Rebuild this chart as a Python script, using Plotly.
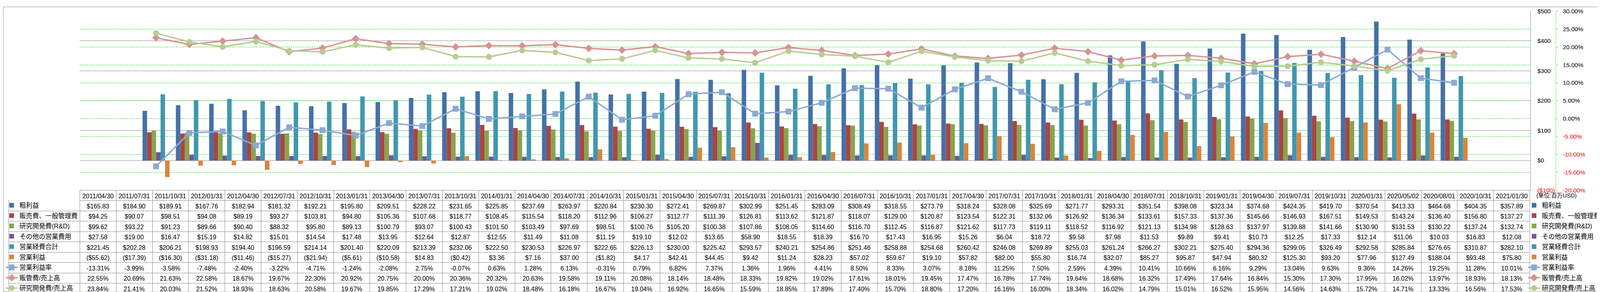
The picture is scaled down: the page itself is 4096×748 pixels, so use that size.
import plotly.graph_objects as go

# ---------------- data ----------------
dates = ["2011/04/30", "2011/07/31", "2011/10/31", "2012/01/31", "2012/04/30", "2012/07/31",
         "2012/10/31", "2013/01/31", "2013/04/30", "2013/07/31", "2013/10/31", "2014/01/31",
         "2014/04/30", "2014/07/31", "2014/10/31", "2015/01/31", "2015/04/30", "2015/07/31",
         "2015/10/31", "2016/01/31", "2016/04/30", "2016/07/31", "2016/10/31", "2017/01/31",
         "2017/04/30", "2017/07/31", "2017/10/31", "2018/01/31", "2018/04/30", "2018/07/31",
         "2018/10/31", "2019/01/31", "2019/04/30", "2019/07/31", "2019/10/31", "2020/01/31",
         "2020/05/02", "2020/08/01", "2020/10/31", "2021/01/30"]

gross_profit = [165.83, 184.90, 189.91, 167.76, 182.94, 181.32, 192.21, 195.80, 209.51,
                228.22, 231.65, 225.85, 237.69, 263.97, 220.84, 230.30, 272.41, 269.87, 302.99, 251.45,
                283.09, 308.49, 318.55, 273.79, 318.24, 328.08, 325.69, 271.77, 293.31, 351.54,
                398.08, 323.34, 374.68, 424.35, 419.70, 370.54, 413.33, 464.68, 404.35, 357.89]
sga = [94.25, 90.07, 98.51, 94.08, 89.19, 93.27, 103.81, 94.80, 105.36,
       107.68, 118.77, 108.45, 115.54, 118.20, 112.96, 106.27, 112.77, 111.39, 126.81, 113.62,
       121.87, 118.07, 129.00, 120.87, 123.54, 122.31, 132.06, 126.92, 136.34, 133.61,
       157.33, 137.36, 145.66, 146.93, 167.51, 149.53, 143.24, 136.40, 156.80, 137.27]
rnd = [99.62, 93.22, 91.23, 89.66, 90.40, 88.32, 95.80, 89.13, 100.79,
       93.07, 100.43, 101.50, 103.49, 97.69, 98.51, 100.76, 105.20, 100.38, 107.86, 108.05,
       114.60, 116.70, 112.45, 116.87, 121.62, 117.73, 119.11, 118.52, 116.92, 121.13,
       134.98, 128.63, 137.97, 139.88, 141.66, 130.90, 131.53, 130.22, 137.24, 132.74]
other_opex = [27.58, 19.00, 16.47, 15.19, 14.82, 15.01, 14.54, 17.48, 13.95,
              12.64, 12.87, 12.55, 11.49, 11.08, 11.19, 19.10, 12.02, 13.65, 58.90, 18.55,
              18.39, 16.70, 17.43, 16.95, 15.26, 6.04, 18.72, 9.58, 7.98, 11.53,
              9.89, 9.41, 10.73, 12.25, 17.33, 12.14, 11.06, 10.03, 16.83, 12.08]
total_opex = [221.45, 202.28, 206.21, 198.93, 194.40, 196.59, 214.14, 201.40, 220.09,
              213.39, 232.06, 222.50, 230.53, 226.97, 222.65, 226.13, 230.00, 225.42, 293.57, 240.21,
              254.86, 251.46, 258.88, 254.68, 260.42, 246.08, 269.89, 255.03, 261.24, 266.27,
              302.21, 275.40, 294.36, 299.05, 326.49, 292.58, 285.84, 276.65, 310.87, 282.10]
op_income = [-55.62, -17.39, -16.30, -31.18, -11.46, -15.27, -21.94, -5.61, -10.58,
             14.83, -0.42, 3.36, 7.16, 37.00, -1.82, 4.17, 42.41, 44.45, 9.42, 11.24,
             28.23, 57.02, 59.67, 19.10, 57.82, 82.00, 55.80, 16.74, 32.07, 85.27,
             95.87, 47.94, 80.32, 125.30, 93.20, 77.96, 127.49, 188.04, 93.48, 75.80]
op_margin = [-13.31, -3.99, -3.58, -7.48, -2.40, -3.22, -4.71, -1.24, -2.08,
             2.75, -0.07, 0.63, 1.28, 6.13, -0.31, 0.79, 6.82, 7.37, 1.36, 1.96,
             4.41, 8.50, 8.33, 3.07, 8.18, 11.25, 7.50, 2.59, 4.39, 10.41,
             10.66, 6.16, 9.29, 13.04, 9.63, 9.36, 14.26, 19.25, 11.28, 10.01]
sga_ratio = [22.55, 20.69, 21.63, 22.58, 18.67, 19.67, 22.30, 20.92, 20.75,
             20.00, 20.36, 20.32, 20.63, 19.58, 19.11, 20.08, 18.14, 18.48, 18.33, 19.82,
             19.02, 17.61, 18.01, 19.45, 17.47, 16.78, 17.74, 19.64, 18.68, 16.32,
             17.49, 17.64, 16.84, 15.30, 17.30, 17.95, 16.02, 13.97, 18.93, 18.13]
rnd_ratio = [23.84, 21.41, 20.03, 21.52, 18.93, 18.63, 20.58, 19.67, 19.85,
             17.29, 17.21, 19.02, 18.48, 16.18, 16.67, 19.04, 16.92, 16.65, 15.59, 18.85,
             17.89, 17.40, 15.70, 18.80, 17.20, 16.16, 16.00, 18.34, 16.02, 14.79,
             15.01, 16.52, 15.95, 14.56, 14.63, 15.72, 14.71, 13.33, 16.56, 17.53]

bar_names = ["粗利益", "販売費、一般管理費", "研究開発費(R&D)", "その他の営業費用", "営業経費合計", "営業利益"]
line_names = ["営業利益率", "販管費/売上高", "研究開発費/売上高"]

y_tickvals = [-100, 0, 100, 200, 300, 400, 500]
y_ticktext = ["($100)", "$0", "$100", "$200", "$300", "$400", "$500"]
y2_tickvals = [-20, -15, -10, -5, 0, 5, 10, 15, 20, 25, 30]
y2_ticktext = ["-20.00%", "-15.00%", "-10.00%", "-5.00%", "0.00%", "5.00%",
               "10.00%", "15.00%", "20.00%", "25.00%", "30.00%"]
unit_label = "(単位:百万USD)"

# ---------------- styles ----------------
bar_colors = ["#4571A8", "#A94543", "#88A44D", "#705A90", "#4197AF", "#DA843D"]
line_colors = ["#8EA9D2", "#D69492", "#B6CD90"]
line_symbols = ["square", "diamond", "circle"]

W, H = 4096, 748
RW, RH = 4701.0, 858.0
S = W / RW
FONT = "Liberation Sans, Noto Sans CJK JP, sans-serif"
GRAY = "#898989"

plot_left, plot_right = 225.5 / RW, 4487 / RW
plot_bottom, plot_top = 1 - 552.3 / RH, 1 - 13.3 / RH
y2_pos = 4562 / RW
table_left = 16.7 / RW
row_h = 30.45 * S
head_h = 30 * S
leg_font = 19 * S
item_h = leg_font * 1.3 + 3
leg_gap = row_h - item_h
leg_top = 1 - (582.3 * S - 4.5) / H


def red(t):
    return "<span style='color:#FF0000'>%s</span>" % t


y_ticklabels = [red(t) if v < 0 else t for v, t in zip(y_tickvals, y_ticktext)]
y2_ticklabels = [red(t) if v < 0 else t for v, t in zip(y2_tickvals, y2_ticktext)]

fig = go.Figure()

bar_series = [gross_profit, sga, rnd, other_opex, total_opex, op_income]
line_series = [op_margin, sga_ratio, rnd_ratio]

# main marks (legend on the right of the table)
for k, (name, vals, col) in enumerate(zip(bar_names, bar_series, bar_colors)):
    fig.add_trace(go.Bar(x=dates, y=vals, name=name, marker=dict(color=col, line=dict(width=0)),
                         yaxis="y", legend="legend", legendgroup="R%d" % k))
for k, (name, vals, col, sym) in enumerate(zip(line_names, line_series, line_colors, line_symbols)):
    fig.add_trace(go.Scatter(x=dates, y=vals, name=name, mode="lines+markers", yaxis="y2",
                             line=dict(color=col, width=3.6),
                             marker=dict(symbol=sym, size=15, color=col, line=dict(width=0)),
                             legend="legend", legendgroup="R%d" % (k + 6)))

# legend keys of the table's row headers (no data, hidden axes)
for k, (name, col) in enumerate(zip(bar_names, bar_colors)):
    fig.add_trace(go.Bar(x=[None], y=[None], name=name, marker=dict(color=col, line=dict(width=0)),
                         xaxis="x3", yaxis="y3", legend="legend2", legendgroup="L%d" % k,
                         hoverinfo="skip"))
for k, (name, col, sym) in enumerate(zip(line_names, line_colors, line_symbols)):
    fig.add_trace(go.Scatter(x=[None], y=[None], name=name, mode="lines+markers",
                             line=dict(color=col, width=3.6),
                             marker=dict(symbol=sym, size=15, color=col, line=dict(width=0)),
                             xaxis="x3", yaxis="y3", legend="legend2", legendgroup="L%d" % (k + 6),
                             hoverinfo="skip"))


# ---------------- data table ----------------
def money(v):
    return "$%.2f" % v if v >= 0 else "($%.2f)" % (-v)


def pct(v):
    return "%.2f%%" % v


columns = [[""] * (len(bar_series) + len(line_series))]
for i in range(len(dates)):
    columns.append([money(s[i]) for s in bar_series] + [pct(s[i]) for s in line_series])

colwidths = [208.8] + [(4487 - 225.5) / 40.0] * len(dates)
head_line_cols = ["rgba(0,0,0,0)"] + [GRAY] * len(dates)

fig.add_trace(go.Table(
    domain=dict(x=[table_left, plot_right], y=[0.0, plot_bottom]),
    columnwidth=colwidths,
    header=dict(values=[""] + dates,
                height=head_h,
                align="center",
                fill=dict(color="white"),
                line=dict(color=head_line_cols, width=1),
                font=dict(family=FONT, size=17 * S + 1.5, color="black")),
    cells=dict(values=columns,
               height=row_h,
               align="center",
               fill=dict(color="white"),
               line=dict(color=GRAY, width=1),
               font=dict(family=FONT, size=18.3 * S, color="black")),
))

legend_common = dict(yanchor="top", xanchor="left", y=leg_top, bgcolor="rgba(0,0,0,0)",
                     borderwidth=0, orientation="v", traceorder="grouped", tracegroupgap=leg_gap,
                     font=dict(family=FONT, size=leg_font, color="black"),
                     itemclick=False, itemdoubleclick=False)

fig.update_layout(
    width=W, height=H,
    margin=dict(l=0, r=0, t=0, b=0),
    paper_bgcolor="white", plot_bgcolor="white",
    font=dict(family=FONT, size=17.7 * S, color="black"),
    barmode="group", bargap=0.19, bargroupgap=0,
    showlegend=True,
    legend=dict(x=(4521 * S - 40) / W, **legend_common),
    legend2=dict(x=(48 * S - 40) / W, **legend_common),
    xaxis=dict(domain=[plot_left, plot_right], type="category", showticklabels=False,
               showgrid=False, showline=False, ticks="", zeroline=False),
    yaxis=dict(domain=[plot_bottom, plot_top], range=[-100, 500], side="right",
               tickvals=y_tickvals, ticktext=y_ticklabels, ticks="",
               ticklabelstandoff=round(16 * S),
               showgrid=True, gridcolor=GRAY, gridwidth=1, zeroline=False,
               showline=True, linecolor=GRAY, linewidth=1,
               tickfont=dict(family=FONT, size=17.7 * S, color="black")),
    yaxis2=dict(overlaying="y", side="right", anchor="free", position=y2_pos,
                range=[-20, 30], tickvals=y2_tickvals, ticktext=y2_ticklabels,
                ticks="outside", ticklen=4, tickcolor="#00E000", tickwidth=1,
                ticklabelstandoff=round(12 * S),
                showgrid=True, gridcolor="#00E600", griddash="4px,2px", gridwidth=1,
                zeroline=False, showline=False,
                tickfont=dict(family=FONT, size=17.7 * S, color="black")),
    xaxis3=dict(domain=[0, 0.001], anchor="y3", visible=False),
    yaxis3=dict(domain=[0, 0.001], anchor="x3", visible=False),
    annotations=[dict(text=unit_label, xref="paper", yref="paper", x=4503 / RW, y=1 - 568 / RH,
                      xanchor="left", yanchor="middle", showarrow=False,
                      font=dict(family=FONT, size=16.8 * S, color="black"))],
    shapes=[
        dict(type="line", xref="paper", yref="y2", x0=y2_pos, x1=y2_pos, y0=-20, y1=30,
             line=dict(color="#00E000", width=1, dash="4px,2px")),
        dict(type="rect", xref="paper", yref="paper", x0=0.0002, x1=0.9998, y0=0.001, y1=0.999,
             line=dict(color=GRAY, width=1), fillcolor="rgba(0,0,0,0)", layer="below"),
    ],
)

fig.write_html("out.html")
